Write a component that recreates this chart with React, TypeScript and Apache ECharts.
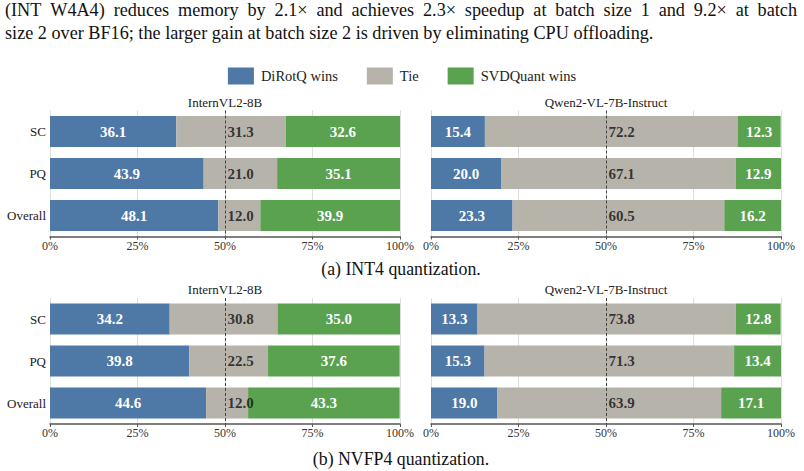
import React, { useEffect, useRef } from "react";
import * as echarts from "echarts";

const categories = ["SC", "PQ", "Overall"];

// (a) INT4
const int4InternDirotq = [36.1, 43.9, 48.1];
const int4InternTie = [31.3, 21.0, 12.0];
const int4InternSvd = [32.6, 35.1, 39.9];
const int4QwenDirotq = [15.4, 20.0, 23.3];
const int4QwenTie = [72.2, 67.1, 60.5];
const int4QwenSvd = [12.3, 12.9, 16.2];
// (b) NVFP4
const nvfp4InternDirotq = [34.2, 39.8, 44.6];
const nvfp4InternTie = [30.8, 22.5, 12.0];
const nvfp4InternSvd = [35.0, 37.6, 43.3];
const nvfp4QwenDirotq = [13.3, 15.3, 19.0];
const nvfp4QwenTie = [73.8, 71.3, 63.9];
const nvfp4QwenSvd = [12.8, 13.4, 17.1];

const panelTitles = ["InternVL2-8B", "Qwen2-VL-7B-Instruct", "InternVL2-8B", "Qwen2-VL-7B-Instruct"];
const legendNames = ["DiRotQ wins", "Tie", "SVDQuant wins"];
const captionA = "(a) INT4 quantization.";
const captionB = "(b) NVFP4 quantization.";
const paraLine1 =
  "(INT W4A4) reduces memory by 2.1\u00d7 and achieves 2.3\u00d7 speedup at batch size 1 and 9.2\u00d7 at batch";
const paraLine2 =
  "size 2 over BF16; the larger gain at batch size 2 is driven by eliminating CPU offloading.";

const panels = [
  { d: int4InternDirotq, t: int4InternTie, s: int4InternSvd },
  { d: int4QwenDirotq, t: int4QwenTie, s: int4QwenSvd },
  { d: nvfp4InternDirotq, t: nvfp4InternTie, s: nvfp4InternSvd },
  { d: nvfp4QwenDirotq, t: nvfp4QwenTie, s: nvfp4QwenSvd },
];

const FONT = "Liberation Serif, serif";
const BLUE = "#4e78a6";
const GRAY = "#b6b3ab";
const GREEN = "#5aa150";

const gridPos = [
  { left: 50, top: 110.5, width: 350, height: 126 },
  { left: 431, top: 110.5, width: 350, height: 126 },
  { left: 50, top: 298, width: 350, height: 126 },
  { left: 431, top: 298, width: 350, height: 126 },
];

function justifiedWords(text: string, x0: number, x1: number, y: number, size: number) {
  const words = text.split(" ");
  const cvs = document.createElement("canvas");
  const ctx = cvs.getContext("2d")!;
  ctx.font = `${size}px Liberation Serif, serif`;
  const widths = words.map((w) => ctx.measureText(w).width);
  const total = widths.reduce((a, b) => a + b, 0);
  const gap = (x1 - x0 - total) / (words.length - 1);
  const out: any[] = [];
  let x = x0;
  words.forEach((w, i) => {
    out.push({
      type: "text",
      x,
      y,
      style: { text: w, fontFamily: FONT, fontSize: size, fill: "#111", textVerticalAlign: "middle" },
    });
    x += widths[i] + gap;
  });
  return out;
}

export default function App() {
  const ref = useRef<HTMLDivElement>(null);
  useEffect(() => {
    document.body.style.margin = "0";
    if (!ref.current) return;
    const chart = echarts.init(ref.current, undefined, { renderer: "svg" });

    const xAxes = gridPos.map((_, i) => ({
      type: "value",
      gridIndex: i,
      min: 0,
      max: 100,
      interval: 25,
      axisLine: { show: true, lineStyle: { color: "#555", width: 1.5 } },
      axisTick: { show: true, length: 3, lineStyle: { color: "#555" } },
      axisLabel: {
        formatter: "{value}%",
        fontFamily: FONT,
        fontSize: 12,
        color: "#333",
        margin: 3,
      },
      splitLine: { show: true, lineStyle: { color: "#dedede", width: 1 } },
    }));
    const yAxes = gridPos.map((_, i) => ({
      type: "category",
      gridIndex: i,
      data: categories,
      inverse: true,
      axisLine: { show: false },
      axisTick: { show: false },
      axisLabel: {
        show: i % 2 === 0,
        fontFamily: FONT,
        fontSize: 13,
        color: "#222",
        margin: 4,
      },
    }));

    const series: any[] = [];
    panels.forEach((p, i) => {
      const common = {
        type: "bar",
        stack: "s" + i,
        xAxisIndex: i,
        yAxisIndex: i,
        barWidth: 31,
      };
      const inLabel = {
        show: true,
        position: "inside",
        formatter: (v: any) => Number(v.value).toFixed(1),
        color: "#fff",
        fontFamily: FONT,
        fontWeight: "bold",
        fontSize: 15,
      };
      series.push({ ...common, name: legendNames[0], data: p.d, itemStyle: { color: BLUE }, label: inLabel });
      series.push({
        ...common,
        name: legendNames[1],
        data: p.t,
        itemStyle: { color: GRAY },
        label: { show: false },
        markLine: {
          silent: true,
          symbol: "none",
          label: { show: false },
          lineStyle: { color: "#444", type: [3, 2], width: 1 },
          data: [{ xAxis: 50 }],
        },
      });
      series.push({ ...common, name: legendNames[2], data: p.s, itemStyle: { color: GREEN }, label: inLabel });
      series.push({
        type: "scatter",
        name: "tieLabel" + i,
        xAxisIndex: i,
        yAxisIndex: i,
        symbolSize: 1,
        itemStyle: { color: "transparent" },
        data: categories.map((c, k) => [50, c, p.t[k]]),
        encode: { x: 0, y: 1 },
        label: {
          show: true,
          position: "right",
          distance: 2,
          formatter: (v: any) => Number(v.value[2]).toFixed(1),
          color: "#111",
          fontFamily: FONT,
          fontWeight: "bold",
          fontSize: 15,
        },
        z: 5,
      });
    });

    const graphic: any[] = [
      ...justifiedWords(paraLine1, 5, 797, 10, 18.2),
      {
        type: "text",
        x: 5,
        y: 33,
        style: { text: paraLine2, fontFamily: FONT, fontSize: 18.2, fill: "#111", textVerticalAlign: "middle" },
      },
      {
        type: "text",
        x: 401,
        y: 269,
        style: { text: captionA, fontFamily: FONT, fontSize: 17.8, fill: "#111", textAlign: "center", textVerticalAlign: "middle" },
      },
      {
        type: "text",
        x: 401,
        y: 459,
        style: { text: captionB, fontFamily: FONT, fontSize: 17.8, fill: "#111", textAlign: "center", textVerticalAlign: "middle" },
      },
    ];
    gridPos.forEach((g, i) => {
      graphic.push({
        type: "text",
        x: g.left + g.width / 2,
        y: g.top - 8.5,
        style: {
          text: panelTitles[i],
          fontFamily: FONT,
          fontSize: 13,
          fill: "#222",
          textAlign: "center",
          textVerticalAlign: "middle",
        },
      });
    });

    chart.setOption({
      animation: false,
      backgroundColor: "#fff",
      legend: {
        data: legendNames,
        top: 67.5,
        left: "center",
        padding: 0,
        itemWidth: 26,
        itemHeight: 17,
        itemGap: 29,
        icon: "rect",
        textStyle: { fontFamily: FONT, fontSize: 14.5, color: "#222", padding: [0, 0, 0, 2] },
        selectedMode: false,
      },
      grid: gridPos,
      xAxis: xAxes,
      yAxis: yAxes,
      series,
      graphic,
    });
    return () => chart.dispose();
  }, []);
  return <div ref={ref} style={{ width: 804, height: 471 }} />;
}
